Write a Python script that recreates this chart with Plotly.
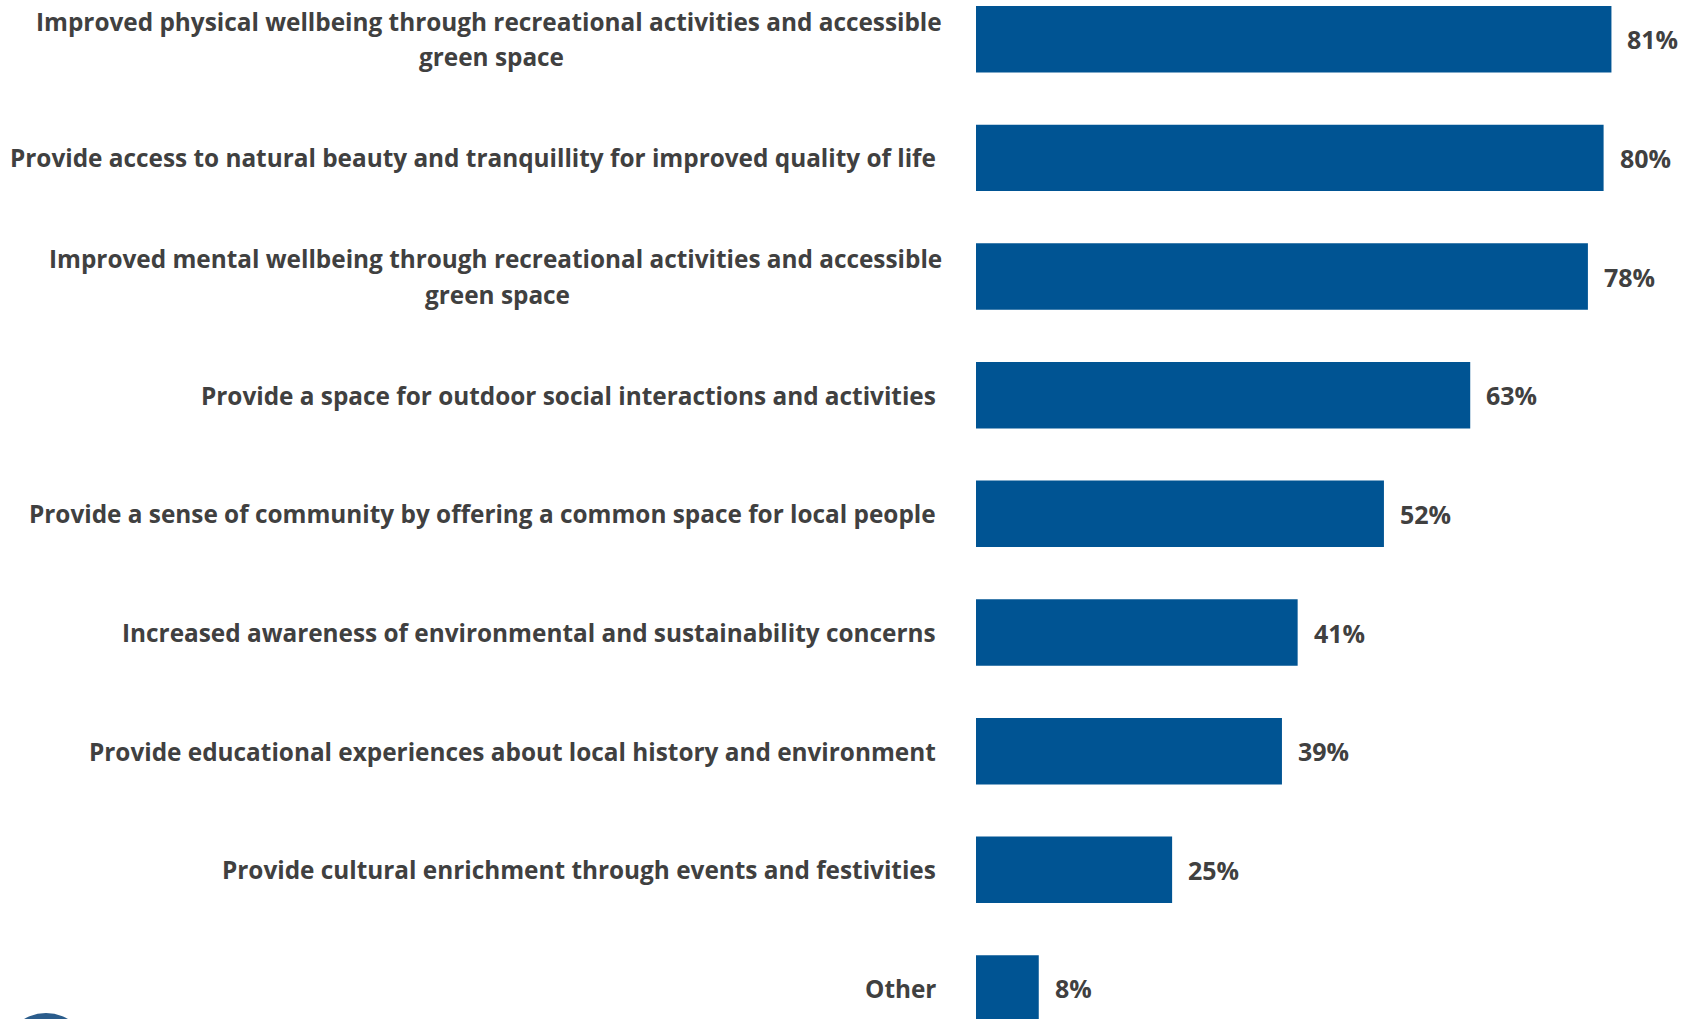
import plotly.graph_objects as go

# Survey responses: perceived benefits of the green space (share of respondents)
categories = [
    "Improved physical wellbeing through recreational activities and accessible<br>green space",
    "Provide access to natural beauty and tranquillity for improved quality of life",
    "Improved mental wellbeing through recreational activities and accessible<br>green space",
    "Provide a space for outdoor social interactions and activities",
    "Provide a sense of community by offering a common space for local people",
    "Increased awareness of environmental and sustainability concerns",
    "Provide educational experiences about local history and environment",
    "Provide cultural enrichment through events and festivities",
    "Other",
]
values = [81, 80, 78, 63, 52, 41, 39, 25, 8]
value_labels = [f"{v}%" for v in values]

BAR_COLOR = "#005493"
TEXT_COLOR = "#404040"
FONT = "Open Sans"

W, H = 1683, 1019
LEFT = 976            # pixel where the bars start
PX_PER_PCT = 7.845
ROW_PX = 118.66
FIRST_ROW_PX = 39.2

plot_w = W - LEFT
y_top = -FIRST_ROW_PX / ROW_PX
y_bottom = (H - FIRST_ROW_PX) / ROW_PX

fig = go.Figure(
    go.Bar(
        x=values,
        y=categories,
        orientation="h",
        marker=dict(color=BAR_COLOR, line=dict(width=0)),
        width=0.56,
        hoverinfo="skip",
    )
)

label_font = dict(family=FONT, size=24.35, color=TEXT_COLOR, weight="bold")
value_font = dict(family=FONT, size=25, color=TEXT_COLOR, weight="bold")

annotations = []
# centre of the wrapped second line, in pixels from the left edge
wrap_centres = {0: 491, 2: 497}
for i, cat in enumerate(categories):
    lines = cat.split("<br>")
    if len(lines) == 1:
        annotations.append(dict(
            x=0, xref="paper", y=cat, yref="y", text=lines[0],
            xanchor="right", yanchor="middle", xshift=936 - LEFT,
            showarrow=False, borderpad=0, borderwidth=0, font=label_font,
        ))
    else:
        annotations.append(dict(
            x=0, xref="paper", y=cat, yref="y", text=lines[0],
            xanchor="right", yanchor="middle", xshift=942 - LEFT, yshift=17.7,
            showarrow=False, borderpad=0, borderwidth=0, font=label_font,
        ))
        annotations.append(dict(
            x=0, xref="paper", y=cat, yref="y", text=lines[1],
            xanchor="center", yanchor="middle", xshift=wrap_centres[i] - LEFT, yshift=-17.7,
            showarrow=False, borderpad=0, borderwidth=0, font=label_font,
        ))

for cat, v, lab in zip(categories, values, value_labels):
    annotations.append(dict(
        x=v, xref="x", y=cat, yref="y", text=lab,
        xanchor="left", yanchor="middle", xshift=16,
        showarrow=False, borderpad=0, borderwidth=0, font=value_font,
    ))

fig.update_layout(
    width=W, height=H, autosize=False,
    margin=dict(l=LEFT, r=0, t=0, b=0, pad=0),
    paper_bgcolor="white", plot_bgcolor="white",
    showlegend=False,
    xaxis=dict(range=[0, plot_w / PX_PER_PCT], visible=False, fixedrange=True),
    yaxis=dict(type="category", categoryorder="array", categoryarray=categories,
               range=[y_bottom, y_top], visible=False, fixedrange=True),
    annotations=annotations,
    shapes=[dict(
        type="circle", xref="paper", yref="paper",
        x0=(3 - LEFT) / plot_w, x1=(89 - LEFT) / plot_w,
        y0=(H - 1099) / H, y1=(H - 1013) / H,
        fillcolor="#2b5d8c", line=dict(width=0), layer="above",
    )],
)

fig.write_html("out.html", config={"displayModeBar": False})
